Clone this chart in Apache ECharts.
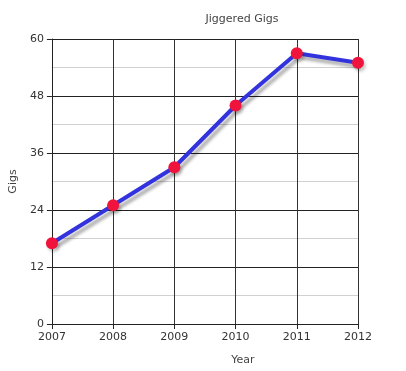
<!DOCTYPE html>
<html><head><meta charset="utf-8">
<script src="https://cdn.jsdelivr.net/npm/echarts@6/dist/echarts.min.js"></script>
<style>html,body{margin:0;padding:0;background:#fff}#c{width:406px;height:371px}</style>
</head><body><div id="c"></div>
<script>
const years = ['2007','2008','2009','2010','2011','2012'];
const gigs = [17, 25, 33, 46, 57, 55];
const yTicks = [0, 12, 24, 36, 48, 60];

const chart = echarts.init(document.getElementById('c'));
chart.setOption({
  animation: false,
  backgroundColor: '#fff',
  textStyle: { fontFamily: 'DejaVu Sans' },
  title: { text: 'Jiggered Gigs', left: 237, top: 9, textAlign: 'center',
    textStyle: { fontSize: 11, fontWeight: 'normal', color: '#444' } },
  grid: { left: 45, right: 48, top: 39, bottom: 44 },
  xAxis: {
    type: 'category', data: years, boundaryGap: false,
    name: 'Year', nameLocation: 'middle', nameGap: 31,
    nameTextStyle: { fontSize: 11, color: '#444', padding: [0, 0, 0, 76] },
    axisLine: { lineStyle: { color: '#222', width: 1 } },
    axisTick: { show: true, length: 5, lineStyle: { color: '#222' } },
    axisLabel: { fontSize: 11, color: '#333', margin: 8 },
    splitLine: { show: true, lineStyle: { color: '#333', width: 1 } }
  },
  yAxis: {
    type: 'value', min: yTicks[0], max: yTicks[yTicks.length - 1], interval: 12,
    name: 'Gigs', nameLocation: 'middle', nameGap: 28,
    nameTextStyle: { fontSize: 11, color: '#444' },
    axisLine: { show: true, lineStyle: { color: '#222' } },
    axisTick: { show: true, length: 5, lineStyle: { color: '#222' } },
    axisLabel: { fontSize: 11, color: '#333', margin: 8 },
    splitLine: { show: true, lineStyle: { color: '#222', width: 1 } },
    minorTick: { show: false, splitNumber: 2 },
    minorSplitLine: { show: true, lineStyle: { color: '#d0d0d0', width: 1 } }
  },
  series: [{
    type: 'line', data: gigs,
    symbol: 'circle', symbolSize: 12,
    lineStyle: { color: '#3333dd', width: 4, shadowColor: 'rgba(0,0,0,0.3)', shadowBlur: 3, shadowOffsetX: 3, shadowOffsetY: 4 },
    itemStyle: { color: '#f0143c', borderWidth: 0, shadowColor: 'rgba(0,0,0,0.2)', shadowBlur: 3, shadowOffsetX: 2, shadowOffsetY: 3 }
  }]
});
</script></body></html>
